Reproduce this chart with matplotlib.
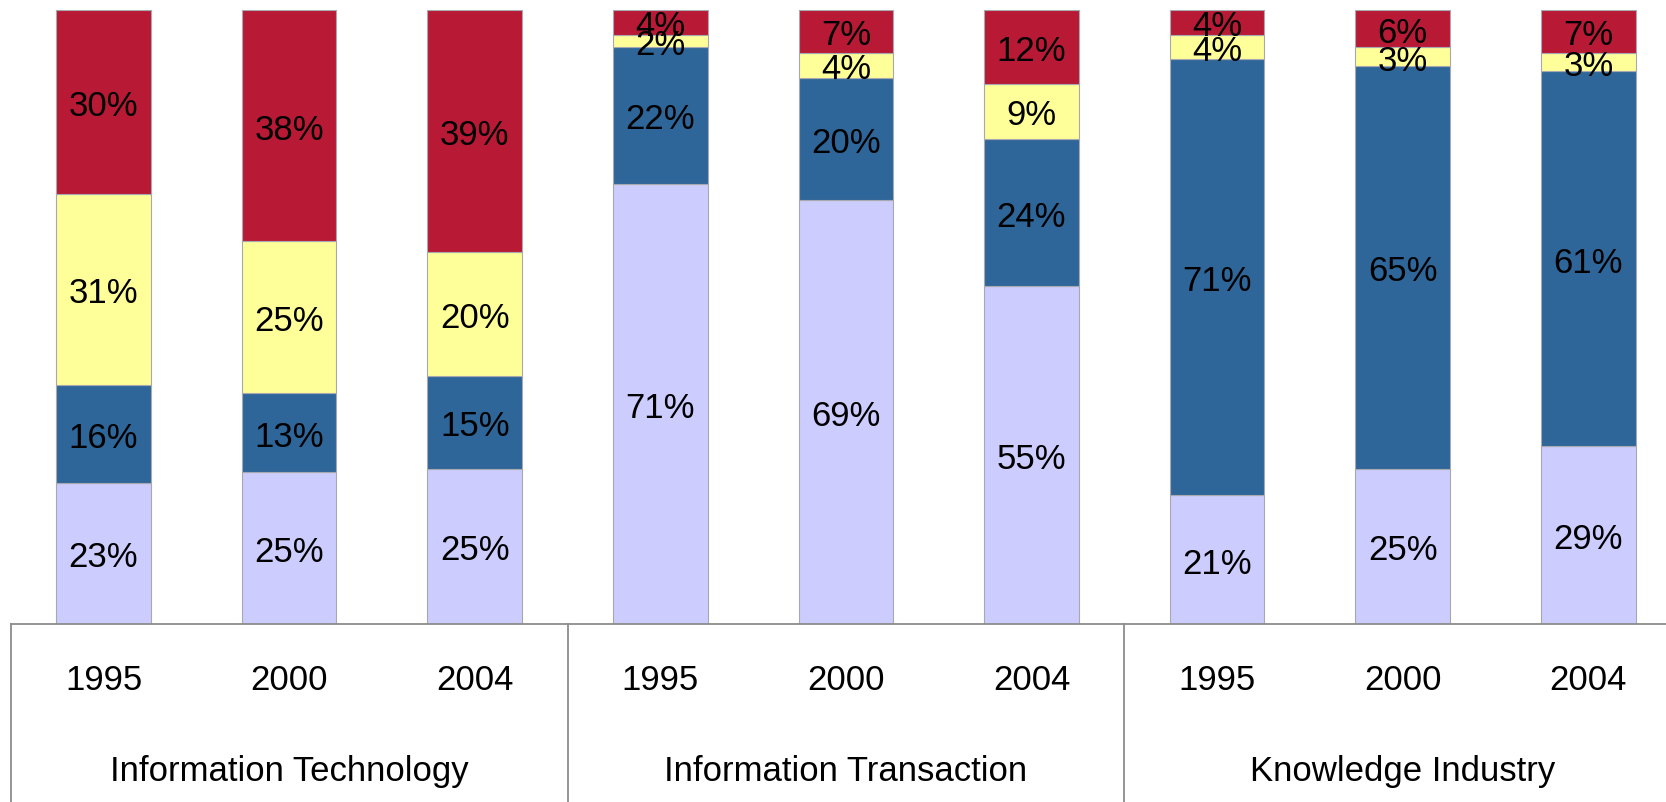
import numpy as np
import matplotlib.pyplot as plt

plt.rcParams["font.family"] = ["Liberation Sans", "DejaVu Sans"]

groups = ["Information Technology", "Information Transaction", "Knowledge Industry"]
years = ["1995", "2000", "2004"]

# shares per bar, bottom to top
lavender = [23, 25, 25, 71, 69, 55, 21, 25, 29]
blue = [16, 13, 15, 22, 20, 24, 71, 65, 61]
yellow = [31, 25, 20, 2, 4, 9, 4, 3, 3]
red = [30, 38, 39, 4, 7, 12, 4, 6, 7]

series = [lavender, blue, yellow, red]
colors = ["#CCCCFF", "#2E6699", "#FFFF99", "#B81A35"]

data = np.array(series, dtype=float)
totals = data.sum(axis=0)
shares = data / totals * 100

fig = plt.figure(figsize=(16.66, 8.03), dpi=100)
ax = fig.add_axes([10.7 / 1666, 178 / 803, 1670.4 / 1666, 614 / 803])

x = np.arange(9)
bottom = np.zeros(9)
for vals, share, color in zip(series, shares, colors):
    ax.bar(x, share, 0.51, bottom=bottom, color=color,
           edgecolor="#A8A8B0", linewidth=0.8)
    for xi, b, h, v in zip(x, bottom, share, vals):
        ax.text(xi, b + h / 2, f"{v}%", ha="center", va="center_baseline",
                fontsize=25, color="black")
    bottom += share

ax.set_xlim(-0.5, 8.5)
ax.set_ylim(0, 100)
ax.axis("off")

# category table under the bars
trans = ax.get_xaxis_transform()
line_kw = dict(color="#8C8C8C", linewidth=1.3, clip_on=False, transform=trans)
ax.plot([-0.5, 8.5], [0, 0], **line_kw)
for xb in [-0.5, 2.5, 5.5]:
    ax.plot([xb, xb], [0, -0.3], **line_kw)

for i in range(9):
    ax.text(i, -0.09, years[i % 3], ha="center", va="center",
            fontsize=25, transform=trans)
for g, name in enumerate(groups):
    ax.text(3 * g + 1, -0.239, name, ha="center", va="center",
            fontsize=25, transform=trans)

fig.savefig("out.png", dpi=100)
